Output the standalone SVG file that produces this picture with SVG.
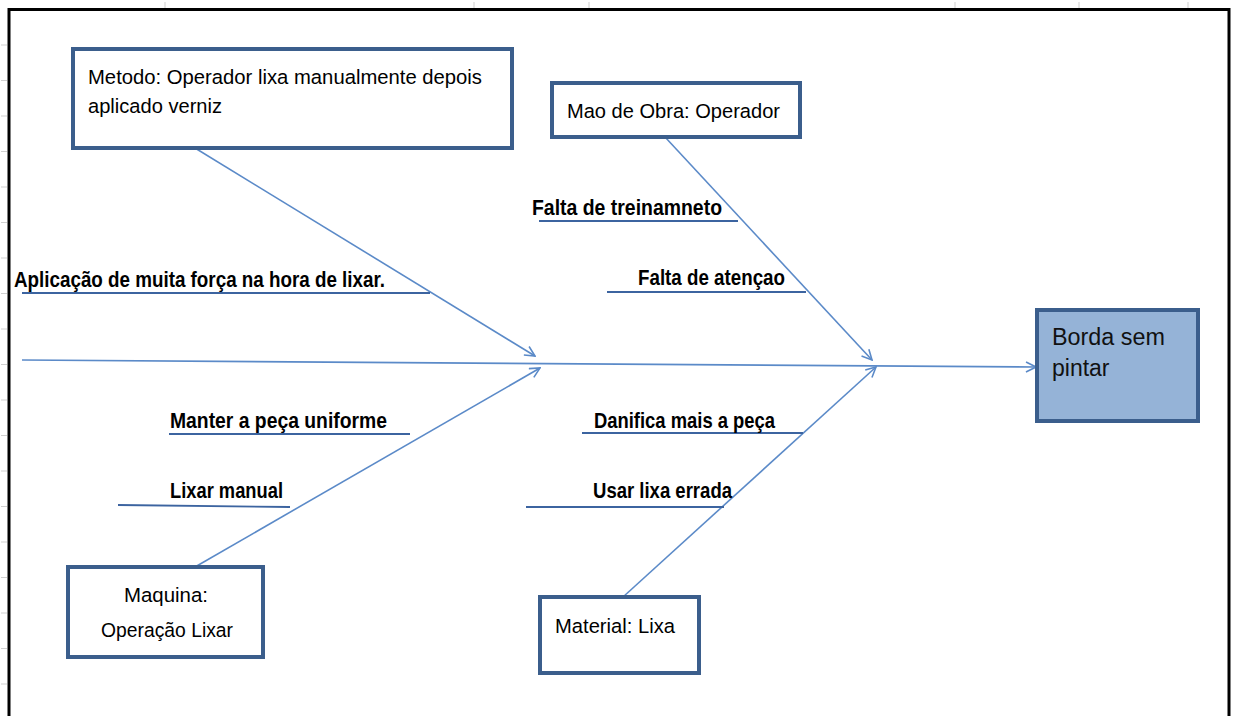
<svg xmlns="http://www.w3.org/2000/svg" width="1233" height="716" viewBox="0 0 1233 716">
  <defs>
    <marker id="arr" viewBox="0 0 12 12" refX="11" refY="6" markerWidth="12" markerHeight="12" markerUnits="userSpaceOnUse" orient="auto">
      <path d="M1,1 L11,6 L1,11" fill="none" stroke="#5b8ac8" stroke-width="1.6"/>
    </marker>
    <style>
      .tick { stroke: #cfcfcf; stroke-width: 1; }
      .box { fill: #ffffff; stroke: #3b5e8c; stroke-width: 4; }
      .effect { fill: #95b3d7; stroke: #3b5e8c; stroke-width: 4; }
      .bone { fill: none; stroke: #5b8ac8; stroke-width: 1.6; }
      .sub { fill: none; stroke: #3c64a0; stroke-width: 1.8; }
      .t { font-family: "Liberation Sans Narrow", "Liberation Sans", Arial, sans-serif; font-size: 20.5px; fill: #000; }
      .b { font-family: "Liberation Sans Narrow", "Liberation Sans", Arial, sans-serif; font-size: 21.5px; font-weight: bold; fill: #000; }
      .e { font-family: "Liberation Sans", Arial, sans-serif; font-size: 23px; fill: #111; }
    </style>
  </defs>
  <rect width="1233" height="716" fill="#ffffff"/>
  <!-- spreadsheet grid ticks -->
  <g id="ticks">
    <line class="tick" x1="165" y1="2" x2="165" y2="8"/>
    <line class="tick" x1="474" y1="2" x2="474" y2="8"/>
    <line class="tick" x1="589" y1="2" x2="589" y2="8"/>
    <line class="tick" x1="955" y1="2" x2="955" y2="8"/>
    <line class="tick" x1="1079" y1="2" x2="1079" y2="8"/>
    <line class="tick" x1="1188" y1="2" x2="1188" y2="8"/>
    <line class="tick" x1="1" y1="45" x2="7" y2="45"/>
    <line class="tick" x1="1" y1="80.5" x2="7" y2="80.5"/>
    <line class="tick" x1="1" y1="116" x2="7" y2="116"/>
    <line class="tick" x1="1" y1="151.5" x2="7" y2="151.5"/>
    <line class="tick" x1="1" y1="187" x2="7" y2="187"/>
    <line class="tick" x1="1" y1="222.5" x2="7" y2="222.5"/>
    <line class="tick" x1="1" y1="258" x2="7" y2="258"/>
    <line class="tick" x1="1" y1="293.5" x2="7" y2="293.5"/>
    <line class="tick" x1="1" y1="329" x2="7" y2="329"/>
    <line class="tick" x1="1" y1="364.5" x2="7" y2="364.5"/>
    <line class="tick" x1="1" y1="400" x2="7" y2="400"/>
    <line class="tick" x1="1" y1="435.5" x2="7" y2="435.5"/>
    <line class="tick" x1="1" y1="471" x2="7" y2="471"/>
    <line class="tick" x1="1" y1="506.5" x2="7" y2="506.5"/>
    <line class="tick" x1="1" y1="542" x2="7" y2="542"/>
    <line class="tick" x1="1" y1="577.5" x2="7" y2="577.5"/>
    <line class="tick" x1="1" y1="613" x2="7" y2="613"/>
    <line class="tick" x1="1" y1="648.5" x2="7" y2="648.5"/>
    <line class="tick" x1="1" y1="684" x2="7" y2="684"/>
  </g>
  <!-- frame -->
  <path d="M9,720 L9,9.5 L1229,9.5 L1229,720" fill="none" stroke="#000" stroke-width="3"/>

  <g id="connectors">
    <line class="bone" x1="22" y1="360" x2="1036" y2="367" marker-end="url(#arr)"/>
    <line class="bone" x1="195" y1="148" x2="535" y2="356" marker-end="url(#arr)"/>
    <line class="bone" x1="195" y1="567" x2="540" y2="368" marker-end="url(#arr)"/>
    <line class="bone" x1="665" y1="137" x2="872" y2="360" marker-end="url(#arr)"/>
    <line class="bone" x1="623" y1="597" x2="876" y2="367" marker-end="url(#arr)"/>
    <line class="sub" x1="22" y1="293" x2="430" y2="293"/>
    <line class="sub" x1="539" y1="221" x2="738" y2="221"/>
    <line class="sub" x1="607" y1="292" x2="806" y2="292"/>
    <line class="sub" x1="169" y1="434" x2="410" y2="434"/>
    <line class="sub" x1="118" y1="505" x2="290" y2="507"/>
    <line class="sub" x1="582" y1="433" x2="803" y2="433"/>
    <line class="sub" x1="526" y1="507" x2="724" y2="507"/>
  </g>

  <g id="metodo">
    <rect class="box" x="73" y="49" width="439" height="99"/>
    <text class="t" x="88" y="84" textLength="394" lengthAdjust="spacingAndGlyphs">Metodo: Operador lixa manualmente depois</text>
    <text class="t" x="88" y="113" textLength="134" lengthAdjust="spacingAndGlyphs">aplicado verniz</text>
  </g>
  <g id="mao-de-obra">
    <rect class="box" x="552" y="83" width="248" height="54"/>
    <text class="t" x="567" y="118" textLength="213" lengthAdjust="spacingAndGlyphs">Mao de Obra: Operador</text>
  </g>
  <g id="maquina">
    <rect class="box" x="68" y="567" width="195" height="90"/>
    <text class="t" x="166" y="602" text-anchor="middle" textLength="84" lengthAdjust="spacingAndGlyphs">Maquina:</text>
    <text class="t" x="167" y="637" text-anchor="middle" textLength="132" lengthAdjust="spacingAndGlyphs">Operação Lixar</text>
  </g>
  <g id="material">
    <rect class="box" x="540" y="597" width="159" height="76"/>
    <text class="t" x="555" y="633" textLength="120" lengthAdjust="spacingAndGlyphs">Material: Lixa</text>
  </g>
  <g id="borda-sem-pintar">
    <rect class="effect" x="1037" y="310" width="161" height="111"/>
    <text class="e" x="1052" y="345" textLength="113" lengthAdjust="spacingAndGlyphs">Borda sem</text>
    <text class="e" x="1052" y="376">pintar</text>
  </g>

  <g id="causes">
    <text class="b" x="14" y="287" textLength="371" lengthAdjust="spacingAndGlyphs">Aplicação de muita força na hora de lixar.</text>
    <text class="b" x="532" y="215" textLength="190" lengthAdjust="spacingAndGlyphs">Falta de treinamneto</text>
    <text class="b" x="638" y="285" textLength="147" lengthAdjust="spacingAndGlyphs">Falta de atençao</text>
    <text class="b" x="170" y="428" textLength="217" lengthAdjust="spacingAndGlyphs">Manter a peça uniforme</text>
    <text class="b" x="170" y="498" textLength="113" lengthAdjust="spacingAndGlyphs">Lixar manual</text>
    <text class="b" x="594" y="428" textLength="181" lengthAdjust="spacingAndGlyphs">Danifica mais a peça</text>
    <text class="b" x="593" y="498" textLength="139" lengthAdjust="spacingAndGlyphs">Usar lixa errada</text>
  </g>
</svg>
